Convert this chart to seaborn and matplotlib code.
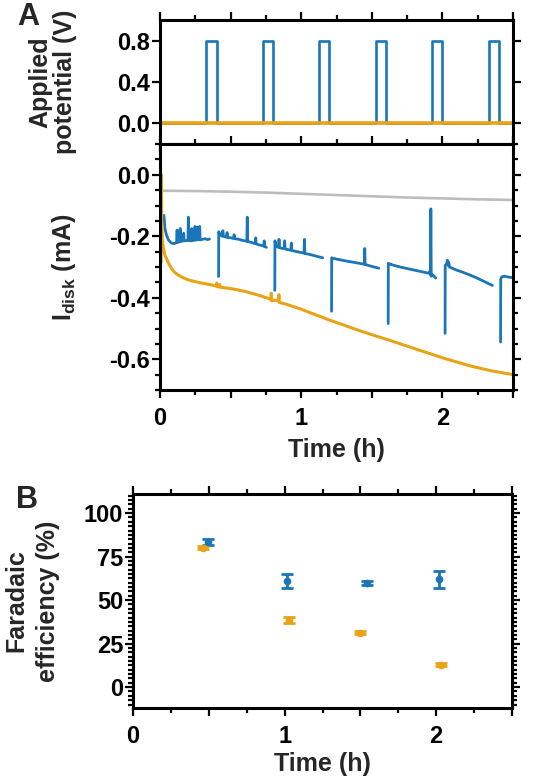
import numpy as np
import pandas as pd
import matplotlib
matplotlib.use('Agg')
import matplotlib.pyplot as plt
import matplotlib.ticker as mticker
import seaborn as sns

# ---- data ----
BLUE = '#1a76b9'
ORANGE = '#e8a317'
GRAY = '#bdbdbd'

# applied potential pulses (h)
pulse_start = [0.328, 0.726, 1.124, 1.527, 1.925, 2.328]
pulse_width = 0.075
pulse_high = 0.8

# disk current, blue trace, one list per segment between pulses
blue_seg_t = [
    [0.028, 0.035, 0.045, 0.06, 0.08, 0.10, 0.118, 0.121, 0.124, 0.14, 0.143, 0.146,
     0.165, 0.168, 0.171, 0.19, 0.198, 0.201, 0.204, 0.222, 0.225, 0.228, 0.245, 0.248,
     0.251, 0.262, 0.265, 0.268, 0.278, 0.281, 0.284, 0.30, 0.32, 0.335, 0.351],
    [0.415, 0.416, 0.425, 0.44, 0.445, 0.45, 0.47, 0.475, 0.48, 0.50, 0.52, 0.525, 0.53,
     0.56, 0.58, 0.60, 0.615, 0.618, 0.621, 0.64, 0.66, 0.675, 0.678, 0.681, 0.70, 0.72,
     0.735, 0.738, 0.741, 0.754],
    [0.813, 0.814, 0.822, 0.84, 0.843, 0.846, 0.86, 0.88, 0.883, 0.886, 0.90, 0.927,
     0.93, 0.933, 0.96, 0.99, 1.02, 1.023, 1.026, 1.06, 1.10, 1.152],
    [1.215, 1.216, 1.225, 1.26, 1.30, 1.35, 1.40, 1.447, 1.45, 1.453, 1.50, 1.55],
    [1.616, 1.617, 1.625, 1.66, 1.70, 1.75, 1.80, 1.85, 1.88, 1.90, 1.91, 1.915, 1.918,
     1.921, 1.93, 1.94, 1.953],
    [2.019, 2.020, 2.03, 2.035, 2.04, 2.045, 2.05, 2.10, 2.15, 2.20, 2.25, 2.30, 2.354],
    [2.412, 2.413, 2.42, 2.44, 2.47, 2.50],
]
blue_seg_i = [
    [-0.132, -0.175, -0.195, -0.212, -0.222, -0.224, -0.220, -0.180, -0.220, -0.218, -0.175,
     -0.217, -0.215, -0.190, -0.215, -0.214, -0.213, -0.138, -0.213, -0.215, -0.175, -0.214,
     -0.213, -0.168, -0.212, -0.212, -0.170, -0.211, -0.210, -0.168, -0.212, -0.210, -0.208,
     -0.211, -0.209],
    [-0.331, -0.185, -0.195, -0.200, -0.182, -0.200, -0.203, -0.188, -0.204, -0.205, -0.207,
     -0.195, -0.208, -0.210, -0.213, -0.215, -0.216, -0.138, -0.217, -0.219, -0.222, -0.224,
     -0.205, -0.225, -0.228, -0.230, -0.232, -0.215, -0.233, -0.236],
    [-0.376, -0.215, -0.232, -0.236, -0.210, -0.237, -0.239, -0.240, -0.215, -0.241, -0.243,
     -0.245, -0.222, -0.246, -0.249, -0.252, -0.255, -0.210, -0.256, -0.259, -0.264, -0.270],
    [-0.444, -0.270, -0.272, -0.275, -0.279, -0.283, -0.287, -0.291, -0.240, -0.292, -0.298,
     -0.304],
    [-0.484, -0.288, -0.290, -0.295, -0.300, -0.305, -0.310, -0.315, -0.318, -0.320, -0.315,
     -0.325, -0.111, -0.330, -0.325, -0.330, -0.336],
    [-0.516, -0.295, -0.290, -0.278, -0.295, -0.285, -0.300, -0.310, -0.318, -0.327, -0.337,
     -0.348, -0.360],
    [-0.544, -0.340, -0.332, -0.330, -0.333, -0.335],
]

# disk current, orange trace
orange_t = [0.008, 0.010, 0.012, 0.016, 0.023, 0.035, 0.047, 0.065, 0.082, 0.105, 0.129,
            0.16, 0.20, 0.28, 0.364, 0.40, 0.402, 0.405, 0.42, 0.423, 0.426, 0.50, 0.599,
            0.70, 0.786, 0.788, 0.79, 0.81, 0.84, 0.842, 0.844, 0.90, 0.998, 1.10, 1.209,
            1.303, 1.40, 1.50, 1.644, 1.80, 2.019, 2.20, 2.35, 2.50]
orange_i = [-0.285, 0.0, -0.15, -0.21, -0.237, -0.262, -0.274, -0.292, -0.305, -0.318,
            -0.326, -0.334, -0.342, -0.351, -0.358, -0.362, -0.352, -0.364, -0.364, -0.357,
            -0.366, -0.370, -0.379, -0.392, -0.405, -0.385, -0.410, -0.408, -0.410, -0.390,
            -0.415, -0.422, -0.437, -0.455, -0.474, -0.489, -0.505, -0.520, -0.541, -0.565,
            -0.598, -0.622, -0.638, -0.650]

# disk current, gray trace
gray_t = [0.012, 0.25, 0.5, 0.75, 1.0, 1.25, 1.5, 1.75, 2.0, 2.25, 2.5]
gray_i = [-0.052, -0.053, -0.055, -0.058, -0.062, -0.066, -0.070, -0.074, -0.077, -0.080, -0.082]

# faradaic efficiency
fe_blue_t = [0.495, 1.015, 1.545, 2.018]
fe_blue = [83.5, 61.0, 60.0, 62.0]
fe_blue_err = [1.6, 3.8, 1.2, 5.0]
fe_orange_t = [0.462, 1.03, 1.495, 2.03]
fe_orange = [80.2, 38.8, 31.2, 12.9]
fe_orange_err = [0.9, 1.7, 0.8, 0.8]

# ---- style ----
sns.set_theme(style='ticks')
plt.rcParams['font.family'] = ['Liberation Sans', 'DejaVu Sans']
plt.rcParams['font.weight'] = 'bold'
plt.rcParams['axes.labelweight'] = 'bold'
plt.rcParams['axes.unicode_minus'] = False
plt.rcParams['mathtext.fontset'] = 'custom'
plt.rcParams['mathtext.rm'] = 'Liberation Sans:bold'
plt.rcParams['mathtext.bf'] = 'Liberation Sans:bold'
FS = 17
LFS = 18


def style_axes(ax):
    for s in ax.spines.values():
        s.set_linewidth(2.2)
        s.set_color('black')
    ax.tick_params(which='both', direction='out', top=True, right=True, width=1.6,
                   colors='black', labelsize=FS, pad=1.5)
    ax.tick_params(which='major', length=5.5)
    ax.tick_params(which='minor', length=3.5)


def int_only(v, pos):
    return f'{v:.0f}' if abs(v - round(v)) < 1e-6 else ''


def two_line_ylabel(ax, first, second, x1, x2):
    # two texts instead of one block, so each line sits where the reference puts it
    for txt, x in ((first, x1), (second, x2)):
        ax.text(x, 0.5, txt, transform=ax.transAxes, rotation=90, fontsize=LFS,
                fontweight='bold', ha='center', va='center')


fig = plt.figure(figsize=(5.38, 7.78), dpi=100)
W, H = 538, 778


def box(l, t, r, b):
    return [l / W, 1 - b / H, (r - l) / W, (b - t) / H]


ax1 = fig.add_axes(box(160, 20, 513, 144))
ax2 = fig.add_axes(box(160, 144, 513, 390))
ax3 = fig.add_axes(box(133, 494, 512, 708))

# ---- A, applied potential ----
pt, pv = [0.0], [0.0]
for s in pulse_start:
    pt += [s, s, s + pulse_width, s + pulse_width]
    pv += [0.0, pulse_high, pulse_high, 0.0]
pt.append(2.5)
pv.append(0.0)
pot = pd.DataFrame({'t': pt, 'v': pv})
sns.lineplot(data=pot, x='t', y='v', ax=ax1, color=BLUE, lw=1.9, sort=False, estimator=None)
sns.lineplot(x=[0.0, 2.5], y=[0.0, 0.0], ax=ax1, color=ORANGE, lw=2.6)
ax1.set_xlim(0, 2.5)
ax1.set_ylim(-0.21, 1.01)
ax1.yaxis.set_major_locator(mticker.FixedLocator([0.0, 0.4, 0.8]))
ax1.yaxis.set_major_formatter(mticker.FormatStrFormatter('%.1f'))
ax1.xaxis.set_major_locator(mticker.MultipleLocator(0.5))
ax1.xaxis.set_minor_locator(mticker.MultipleLocator(0.25))
ax1.set_xticklabels([])
ax1.set_xlabel('')
ax1.set_ylabel('')
two_line_ylabel(ax1, 'Applied', 'potential (V)', -0.34, -0.269)
style_axes(ax1)
ax1.tick_params(axis='x', labelbottom=False)

# ---- A, disk current ----
rows = []
for k, (ts, ys) in enumerate(zip(blue_seg_t, blue_seg_i)):
    for t, y in zip(ts, ys):
        rows.append((k, t, y))
cur = pd.DataFrame(rows, columns=['seg', 't', 'i'])
sns.lineplot(x=gray_t, y=gray_i, ax=ax2, color=GRAY, lw=1.9, sort=False, estimator=None)
sns.lineplot(data=cur, x='t', y='i', units='seg', ax=ax2, color=BLUE, lw=2.0,
             sort=False, estimator=None)
sns.lineplot(x=orange_t, y=orange_i, ax=ax2, color=ORANGE, lw=2.2, sort=False, estimator=None)
ax2.set_xlim(0, 2.5)
ax2.set_ylim(-0.7, 0.1)
ax2.yaxis.set_major_locator(mticker.FixedLocator([0.0, -0.2, -0.4, -0.6]))
ax2.yaxis.set_minor_locator(mticker.MultipleLocator(0.05))
ax2.yaxis.set_major_formatter(mticker.FormatStrFormatter('%.1f'))
ax2.xaxis.set_major_locator(mticker.MultipleLocator(0.5))
ax2.xaxis.set_minor_locator(mticker.MultipleLocator(0.25))
ax2.xaxis.set_major_formatter(mticker.FuncFormatter(int_only))
ax2.set_xlabel('Time (h)', fontsize=LFS)
ax2.xaxis.set_label_coords(0.5, -0.195)
ax2.set_ylabel(r'I$_{\mathrm{disk}}$ (mA)', fontsize=LFS)
ax2.yaxis.set_label_coords(-0.232, 0.5)
style_axes(ax2)
ax2.tick_params(axis='x', pad=7)

# ---- B, faradaic efficiency ----
ax3.errorbar(fe_blue_t, fe_blue, yerr=fe_blue_err, fmt='o', color=BLUE, ms=4.5,
             elinewidth=2.0, capsize=4.5, capthick=2.0)
ax3.errorbar(fe_orange_t, fe_orange, yerr=fe_orange_err, fmt='o', color=ORANGE, ms=4.5,
             elinewidth=2.0, capsize=4.5, capthick=2.0)
ax3.set_xlim(0, 2.5)
ax3.set_ylim(-12, 111)
ax3.yaxis.set_major_locator(mticker.FixedLocator([0, 25, 50, 75, 100]))
ax3.yaxis.set_minor_locator(mticker.MultipleLocator(2.5))
ax3.xaxis.set_major_locator(mticker.MultipleLocator(0.5))
ax3.xaxis.set_minor_locator(mticker.MultipleLocator(0.25))
ax3.xaxis.set_major_formatter(mticker.FuncFormatter(int_only))
ax3.set_xlabel('Time (h)', fontsize=LFS)
ax3.xaxis.set_label_coords(0.5, -0.206)
ax3.set_ylabel('')
two_line_ylabel(ax3, 'Faradaic', 'efficiency (%)', -0.307, -0.225)
style_axes(ax3)
ax3.tick_params(axis='x', pad=7)

fig.text(28 / W, 1 - 17 / H, 'A', fontsize=22, fontweight='bold', ha='center', va='center')
fig.text(27 / W, 1 - 500 / H, 'B', fontsize=22, fontweight='bold', ha='center', va='center')

fig.savefig('out.png', dpi=100)
